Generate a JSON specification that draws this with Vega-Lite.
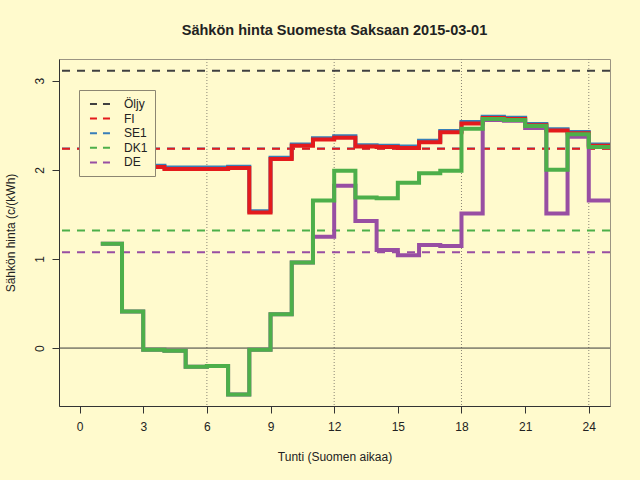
{
  "$schema": "https://vega.github.io/schema/vega-lite/v6.json",
  "width": 551,
  "height": 347,
  "autosize": {"type": "none"},
  "padding": {"left": 59, "top": 59, "right": 30, "bottom": 74},
  "background": "#fffacd",
  "title": {
    "text": "Sähkön hinta Suomesta Saksaan 2015-03-01",
    "font": "Liberation Sans",
    "fontSize": 14.5,
    "fontWeight": "bold",
    "color": "#222222",
    "anchor": "middle",
    "offset": 20
  },
  "config": {
    "view": {"stroke": "#9b9482", "strokeWidth": 1},
    "font": "Liberation Sans",
    "axis": {
      "domainColor": "#333333",
      "tickColor": "#333333",
      "tickSize": 7,
      "labelFont": "Liberation Sans",
      "labelFontSize": 12,
      "labelColor": "#222222",
      "titleFont": "Liberation Sans",
      "titleFontSize": 12,
      "titleFontWeight": "normal",
      "titleColor": "#222222",
      "grid": false
    }
  },
  "datasets": {
    "steps": [
      {"s": "FI", "h": 1, "v": 2.04}, {"s": "FI", "h": 2, "v": 2.04}, {"s": "FI", "h": 3, "v": 2.03}, {"s": "FI", "h": 4, "v": 2.01},
      {"s": "FI", "h": 5, "v": 2.01}, {"s": "FI", "h": 6, "v": 2.01}, {"s": "FI", "h": 7, "v": 2.02}, {"s": "FI", "h": 8, "v": 1.52},
      {"s": "FI", "h": 9, "v": 2.12}, {"s": "FI", "h": 10, "v": 2.27}, {"s": "FI", "h": 11, "v": 2.34}, {"s": "FI", "h": 12, "v": 2.36},
      {"s": "FI", "h": 13, "v": 2.26}, {"s": "FI", "h": 14, "v": 2.255}, {"s": "FI", "h": 15, "v": 2.245}, {"s": "FI", "h": 16, "v": 2.31},
      {"s": "FI", "h": 17, "v": 2.42}, {"s": "FI", "h": 18, "v": 2.52}, {"s": "FI", "h": 19, "v": 2.58}, {"s": "FI", "h": 20, "v": 2.57},
      {"s": "FI", "h": 21, "v": 2.5}, {"s": "FI", "h": 22, "v": 2.44}, {"s": "FI", "h": 23, "v": 2.41}, {"s": "FI", "h": 24, "v": 2.27},
      {"s": "FI", "h": 25, "v": 2.27},
      {"s": "SE1", "h": 1, "v": 2.055}, {"s": "SE1", "h": 2, "v": 2.055}, {"s": "SE1", "h": 3, "v": 2.045}, {"s": "SE1", "h": 4, "v": 2.025},
      {"s": "SE1", "h": 5, "v": 2.025}, {"s": "SE1", "h": 6, "v": 2.025}, {"s": "SE1", "h": 7, "v": 2.035}, {"s": "SE1", "h": 8, "v": 1.535},
      {"s": "SE1", "h": 9, "v": 2.135}, {"s": "SE1", "h": 10, "v": 2.285}, {"s": "SE1", "h": 11, "v": 2.355}, {"s": "SE1", "h": 12, "v": 2.375},
      {"s": "SE1", "h": 13, "v": 2.275}, {"s": "SE1", "h": 14, "v": 2.27}, {"s": "SE1", "h": 15, "v": 2.26}, {"s": "SE1", "h": 16, "v": 2.325},
      {"s": "SE1", "h": 17, "v": 2.435}, {"s": "SE1", "h": 18, "v": 2.535}, {"s": "SE1", "h": 19, "v": 2.595}, {"s": "SE1", "h": 20, "v": 2.585},
      {"s": "SE1", "h": 21, "v": 2.515}, {"s": "SE1", "h": 22, "v": 2.455}, {"s": "SE1", "h": 23, "v": 2.425}, {"s": "SE1", "h": 24, "v": 2.285},
      {"s": "SE1", "h": 25, "v": 2.285},
      {"s": "DE", "h": 1, "v": 1.17}, {"s": "DE", "h": 2, "v": 0.41}, {"s": "DE", "h": 3, "v": -0.02}, {"s": "DE", "h": 4, "v": -0.03},
      {"s": "DE", "h": 5, "v": -0.21}, {"s": "DE", "h": 6, "v": -0.2}, {"s": "DE", "h": 7, "v": -0.52}, {"s": "DE", "h": 8, "v": -0.02},
      {"s": "DE", "h": 9, "v": 0.38}, {"s": "DE", "h": 10, "v": 0.96}, {"s": "DE", "h": 11, "v": 1.25}, {"s": "DE", "h": 12, "v": 1.82},
      {"s": "DE", "h": 13, "v": 1.425}, {"s": "DE", "h": 14, "v": 1.1}, {"s": "DE", "h": 15, "v": 1.04}, {"s": "DE", "h": 16, "v": 1.155},
      {"s": "DE", "h": 17, "v": 1.145}, {"s": "DE", "h": 18, "v": 1.51}, {"s": "DE", "h": 19, "v": 2.56}, {"s": "DE", "h": 20, "v": 2.55},
      {"s": "DE", "h": 21, "v": 2.47}, {"s": "DE", "h": 22, "v": 1.51}, {"s": "DE", "h": 23, "v": 2.37}, {"s": "DE", "h": 24, "v": 1.655},
      {"s": "DE", "h": 25, "v": 1.655},
      {"s": "DK1", "h": 1, "v": 1.17}, {"s": "DK1", "h": 2, "v": 0.41}, {"s": "DK1", "h": 3, "v": -0.02}, {"s": "DK1", "h": 4, "v": -0.03},
      {"s": "DK1", "h": 5, "v": -0.21}, {"s": "DK1", "h": 6, "v": -0.2}, {"s": "DK1", "h": 7, "v": -0.52}, {"s": "DK1", "h": 8, "v": -0.02},
      {"s": "DK1", "h": 9, "v": 0.38}, {"s": "DK1", "h": 10, "v": 0.96}, {"s": "DK1", "h": 11, "v": 1.655}, {"s": "DK1", "h": 12, "v": 1.99},
      {"s": "DK1", "h": 13, "v": 1.69}, {"s": "DK1", "h": 14, "v": 1.68}, {"s": "DK1", "h": 15, "v": 1.855}, {"s": "DK1", "h": 16, "v": 1.96},
      {"s": "DK1", "h": 17, "v": 1.99}, {"s": "DK1", "h": 18, "v": 2.46}, {"s": "DK1", "h": 19, "v": 2.57}, {"s": "DK1", "h": 20, "v": 2.56},
      {"s": "DK1", "h": 21, "v": 2.49}, {"s": "DK1", "h": 22, "v": 2.0}, {"s": "DK1", "h": 23, "v": 2.4}, {"s": "DK1", "h": 24, "v": 2.255},
      {"s": "DK1", "h": 25, "v": 2.255}
    ],
    "means": [
      {"s": "Öljy", "v": 3.11},
      {"s": "SE1", "v": 2.238},
      {"s": "FI", "v": 2.236},
      {"s": "DE", "v": 1.075},
      {"s": "DK1", "v": 1.318}
    ],
    "vlines": [{"h": 6}, {"h": 12}, {"h": 18}, {"h": 24}],
    "zero": [{"v": 0}]
  },
  "layer": [
    {
      "data": {"name": "vlines"},
      "mark": {"type": "rule", "color": "#8a8575", "strokeWidth": 1, "strokeDash": [1, 2]},
      "encoding": {
        "x": {
          "field": "h", "type": "quantitative",
          "scale": {"domain": [-0.97, 25.0], "nice": false, "zero": false},
          "axis": {"values": [0, 3, 6, 9, 12, 15, 18, 21, 24], "format": "d", "title": "Tunti (Suomen aikaa)", "labelPadding": 8, "titlePadding": 19, "labelFlush": false}
        }
      }
    },
    {
      "data": {"name": "zero"},
      "mark": {"type": "rule", "color": "#3a3a3a", "strokeWidth": 1},
      "encoding": {
        "y": {
          "field": "v", "type": "quantitative",
          "scale": {"domain": [-0.65, 3.243], "nice": false, "zero": false},
          "axis": {"values": [0, 1, 2, 3], "format": "d", "title": "Sähkön hinta (c/(kWh)", "labelAngle": 270, "labelPadding": 6, "titlePadding": 16, "labelFlush": false}
        }
      }
    },
    {
      "data": {"name": "means"},
      "mark": {"type": "rule", "strokeWidth": 2, "strokeDash": [8, 7]},
      "encoding": {
        "y": {"field": "v", "type": "quantitative"},
        "color": {
          "field": "s", "type": "nominal",
          "scale": {"domain": ["Öljy", "FI", "SE1", "DK1", "DE"], "range": ["#404040", "#E41A1C", "#377EB8", "#4DAF4A", "#984EA3"]},
          "legend": {
            "title": null,
            "orient": "none",
            "legendX": 20,
            "legendY": 31,
            "symbolType": "M-1.67,0H1.67",
            "symbolStrokeWidth": 2,
            "symbolDash": [7, 6],
            "symbolSize": 144,
            "symbolOffset": 7,
            "labelFont": "Liberation Sans",
            "labelFontSize": 12,
            "labelColor": "#222222",
            "labelOffset": 17,
            "rowPadding": 1.6,
            "padding": 7,
            "strokeColor": "#8c8672",
            "fillColor": "#fffacd"
          }
        }
      }
    },
    {
      "data": {"name": "steps"},
      "transform": [{"filter": "datum.s === 'SE1'"}],
      "mark": {"type": "line", "interpolate": "step-after", "strokeWidth": 4, "color": "#377EB8"},
      "encoding": {"x": {"field": "h", "type": "quantitative"}, "y": {"field": "v", "type": "quantitative"}}
    },
    {
      "data": {"name": "steps"},
      "transform": [{"filter": "datum.s === 'FI'"}],
      "mark": {"type": "line", "interpolate": "step-after", "strokeWidth": 4, "color": "#E41A1C"},
      "encoding": {"x": {"field": "h", "type": "quantitative"}, "y": {"field": "v", "type": "quantitative"}}
    },
    {
      "data": {"name": "steps"},
      "transform": [{"filter": "datum.s === 'DE'"}],
      "mark": {"type": "line", "interpolate": "step-after", "strokeWidth": 4, "color": "#984EA3"},
      "encoding": {"x": {"field": "h", "type": "quantitative"}, "y": {"field": "v", "type": "quantitative"}}
    },
    {
      "data": {"name": "steps"},
      "transform": [{"filter": "datum.s === 'DK1'"}],
      "mark": {"type": "line", "interpolate": "step-after", "strokeWidth": 4, "color": "#4DAF4A"},
      "encoding": {"x": {"field": "h", "type": "quantitative"}, "y": {"field": "v", "type": "quantitative"}}
    }
  ]
}
